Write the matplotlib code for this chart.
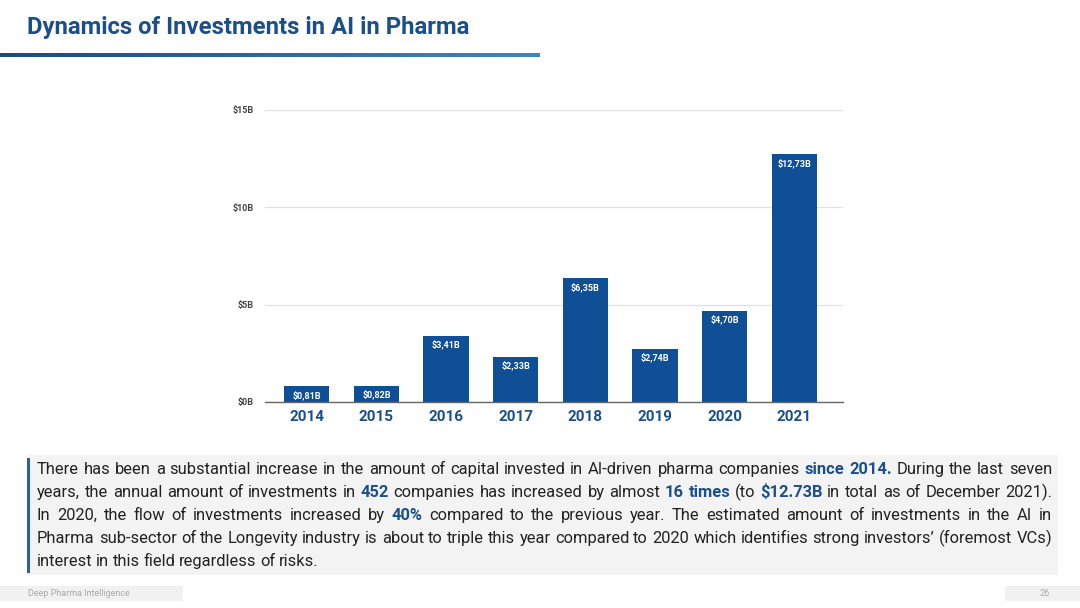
import numpy as np
import matplotlib
matplotlib.use("Agg")
import matplotlib.pyplot as plt
from matplotlib.patches import Rectangle

years = ["2014", "2015", "2016", "2017", "2018", "2019", "2020", "2021"]
invest = [0.81, 0.82, 3.41, 2.33, 6.35, 2.74, 4.70, 12.73]
bar_labels = ["$0,81B", "$0,82B", "$3,41B", "$2,33B", "$6,35B", "$2,74B", "$4,70B", "$12,73B"]
ytick_vals = [0, 5, 10, 15]
ytick_labels = ["$0B", "$5B", "$10B", "$15B"]

title = "Dynamics of Investments in AI in Pharma"
# paragraph lines; words wrapped in * are highlighted
para_lines = [
    "There has been a substantial increase in the amount of capital invested in AI-driven pharma companies *since* *2014.* During the last seven",
    "years, the annual amount of investments in *452* companies has increased by almost *16* *times* (to *$12.73B* in total as of December 2021).",
    "In 2020, the flow of investments increased by *40%* compared to the previous year. The estimated amount of investments in the AI in",
    "Pharma sub-sector of the Longevity industry is about to triple this year compared to 2020 which identifies strong investors\u2019 (foremost VCs)",
    "interest in this field regardless of risks.",
]
footer = "Deep Pharma Intelligence"
page_no = "26"

BLUE = "#0f4f96"
TITLE_BLUE = "#1b4f8c"
plt.rcParams["font.family"] = ["Roboto", "DejaVu Sans"]

W, H = 1080, 608
fig = plt.figure(figsize=(W / 100, H / 100), dpi=100)
fig.patch.set_facecolor("white")


def fx(px):
    return px / W


def fy(py):
    return 1 - py / H


# title + gradient underline
fig.text(fx(27), fy(34), title, fontsize=17.2, fontweight="bold", color=TITLE_BLUE,
         va="baseline", ha="left")
gax = fig.add_axes([0, fy(57), fx(540), 4 / H])
grad = np.linspace(0, 1, 256).reshape(1, -1)
cmap = matplotlib.colors.LinearSegmentedColormap.from_list("g", ["#1a4a86", "#3f86c8"])
gax.imshow(grad, aspect="auto", cmap=cmap)
gax.axis("off")

# bar chart
ax = fig.add_axes([fx(265), fy(402), fx(843 - 265), (402 - 110) / H])
x = np.arange(len(years))
bars = ax.bar(x, invest, width=0.65, color=BLUE, zorder=3)
for b, lab in zip(bars, bar_labels):
    ax.text(b.get_x() + b.get_width() / 2, b.get_height() - 0.2, lab,
            ha="center", va="top", color="white", fontsize=6.5, fontweight="bold", zorder=4)
ax.set_xlim(-0.6, 7.7)
ax.set_ylim(0, 15)
ax.set_yticks(ytick_vals)
ax.set_yticklabels(ytick_labels, fontsize=6.5, fontweight="bold", color="#444444")
ax.set_xticks(x)
ax.set_xticklabels(years, fontsize=11, fontweight="bold", color=TITLE_BLUE)
ax.tick_params(axis="both", length=0)
ax.tick_params(axis="y", pad=8)
ax.tick_params(axis="x", pad=6)
ax.grid(axis="y", color="#e2e2e2", linewidth=0.9, zorder=0)
for s in ["top", "right", "left"]:
    ax.spines[s].set_visible(False)
ax.spines["bottom"].set_color("#666666")
ax.spines["bottom"].set_linewidth(1.0)
ax.spines["bottom"].set_zorder(5)

# paragraph box
fig.patches.append(Rectangle((fx(27), fy(575)), fx(1058 - 27), (575 - 455) / H,
                             transform=fig.transFigure, facecolor="#f3f3f3", edgecolor="none", zorder=0))
fig.patches.append(Rectangle((fx(27), fy(573)), fx(3), (573 - 458) / H,
                             transform=fig.transFigure, facecolor="#2c5f9e", edgecolor="none", zorder=1))

fig.canvas.draw()
renderer = fig.canvas.get_renderer()
left_px, right_px = 37, 1052
line_base = [474, 497, 520, 543, 566]
fs = 11.9
for li, (line, ypx) in enumerate(zip(para_lines, line_base)):
    words = line.split(" ")
    items = []
    for w in words:
        hl = w.startswith("*") and w.endswith("*") and len(w) > 1
        txt = w.strip("*") if hl else w
        t = fig.text(0, 0, txt, fontsize=fs, color=TITLE_BLUE if hl else "#222222",
                     fontweight="bold" if hl else "normal", va="baseline", ha="left")
        wpx = t.get_window_extent(renderer).width
        items.append((t, wpx))
    total = sum(w for _, w in items)
    last = li == len(para_lines) - 1
    if last or len(items) < 2:
        gap = fs * 0.3
    else:
        gap = (right_px - left_px - total) / (len(items) - 1)
    cur = left_px
    for t, wpx in items:
        t.set_position((fx(cur), fy(ypx)))
        cur += wpx + gap

# footer
fig.patches.append(Rectangle((0, fy(601)), fx(183), 15 / H, transform=fig.transFigure,
                             facecolor="#f1f1f1", edgecolor="none"))
fig.text(fx(28), fy(594), footer, fontsize=6.5, color="#aaaaaa", va="center", ha="left")
fig.patches.append(Rectangle((fx(1005), fy(601)), fx(75), 15 / H, transform=fig.transFigure,
                             facecolor="#f1f1f1", edgecolor="none"))
fig.text(fx(1045), fy(594), page_no, fontsize=6.5, color="#aaaaaa", va="center", ha="center")

fig.savefig("out.png", dpi=100, facecolor="white")
